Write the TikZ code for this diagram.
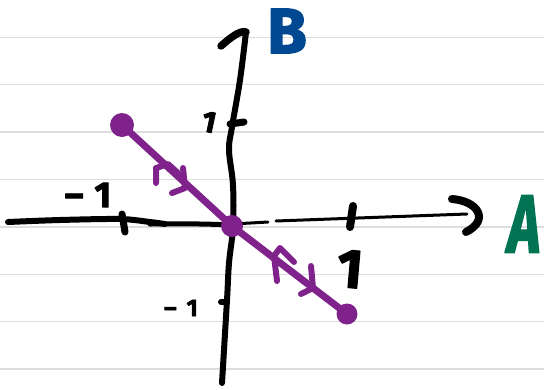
\documentclass[tikz,border=0pt]{standalone}
\usepackage{fontspec}
\newfontfamily\hand{Fira Sans}[FakeBold=2.5]
\definecolor{pur}{RGB}{128,34,140}
\definecolor{grn}{RGB}{0,116,82}
\definecolor{blu}{RGB}{0,72,145}
\definecolor{rulecol}{RGB}{221,221,221}
\begin{document}
\begin{tikzpicture}[x=1pt,y=-1pt, line cap=round, line join=round,
  ruled/.style={draw=rulecol, line width=1.4pt, line cap=butt},
  ax/.style={draw=black, line width=6pt},
  thinax/.style={draw=black, line width=3pt},
  vec/.style={draw=pur, line width=7pt},
  barb/.style={draw=pur, line width=6pt},
  dot/.style={circle, fill=pur, inner sep=0pt, minimum size=#1},
  lab/.style={inner sep=0pt, font=\hand\bfseries\fontsize{#1}{#1}\selectfont},
]
\useasboundingbox (0,0) rectangle (544,389);
\foreach \y in {37.3,84.7,132.1,179.5,226.9,274.3,321.7,369.1}
  \draw[ruled] (0,\y) -- (544,\y);

% horizontal axis
\draw[ax] plot[smooth] coordinates {(8,222) (60,220) (120,219) (150,222) (165,224)};
\draw[line width=5pt] plot[smooth] coordinates {(150,224) (200,224) (233,225)};
\draw[thinax] (233,224) -- (268,222);
\draw[thinax] (276,221) -- (467,214);
\draw[line width=8pt] (452,199) .. controls (478,201) and (490,220) .. (466,232);
\draw[line width=7pt] (122,214) -- (125,232);
\draw[line width=8pt] (353,206) -- (350,227);

% vertical axis
\draw[ax] plot[smooth, tension=0.6] coordinates {(246,32) (240,80) (232,127) (229,150) (233,185) (233,227) (229,263) (227,300) (222,383)};
\draw[line width=7.5pt] (221,46) .. controls (230,38) and (240,30) .. (246,32);
\draw[line width=7pt] (230,124) -- (244,122);
\draw[line width=6pt] (221,302) -- (227,302);

% vector
\node[dot=24pt] (p1) at (122,125) {};
\node[dot=22pt] (o) at (232,226) {};
\node[dot=21pt] (p2) at (347,314) {};
\draw[vec] (p1.center) -- (o.center) -- (p2.center);
\draw[barb] (156,183) -- (156,168) -- (168,164) -- (178,173);
\draw[barb] (183,168) -- (185,188) -- (172,193);
\draw[barb] (277,281) -- (274,256) -- (280,248) -- (294,262);
\draw[barb] (311,266) -- (313,288) -- (301,294);

% labels
\node[lab=36] (xm) at (88,195) {–\hspace{11pt}1};
\node[lab=30, rotate=-12] (yp) at (209,122) {1};
\node[lab=55, rotate=-5] (xp) at (350,269) {1};
\node[lab=24] (ym) at (181,308) {–\hspace{10pt}1};
\node[lab=82, text=grn, xscale=0.68] (A) at (524,224) {\itshape A};
\node[lab=64, text=blu] (B) at (287,31) {B};
\end{tikzpicture}
\end{document}
